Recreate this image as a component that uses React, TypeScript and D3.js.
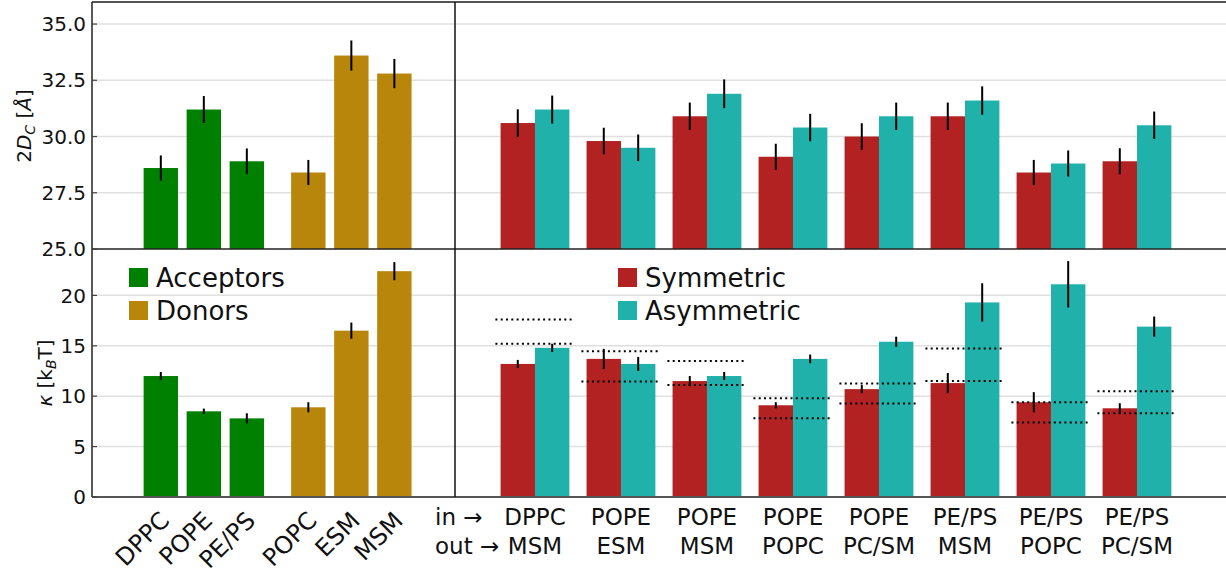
import React from "react";
import * as d3 from "d3";

const leftLabels = ["DPPC", "POPE", "PE/PS", "POPC", "ESM", "MSM"];
const leftGroup = ["Acceptors", "Acceptors", "Acceptors", "Donors", "Donors", "Donors"];
const leftThickness = [28.6, 31.2, 28.9, 28.4, 33.6, 32.8];
const leftThicknessErr = [0.56, 0.6, 0.57, 0.56, 0.67, 0.65];
const leftKappa = [12.0, 8.5, 7.8, 8.9, 16.5, 22.4];
const leftKappaErr = [0.4, 0.27, 0.5, 0.5, 0.8, 0.9];

const pairIn = ["DPPC", "POPE", "POPE", "POPE", "POPE", "PE/PS", "PE/PS", "PE/PS"];
const pairOut = ["MSM", "ESM", "MSM", "POPC", "PC/SM", "MSM", "POPC", "PC/SM"];
const symThickness = [30.6, 29.8, 30.9, 29.1, 30.0, 30.9, 28.4, 28.9];
const symThicknessErr = [0.61, 0.59, 0.61, 0.58, 0.59, 0.61, 0.56, 0.58];
const asymThickness = [31.2, 29.5, 31.9, 30.4, 30.9, 31.6, 28.8, 30.5];
const asymThicknessErr = [0.62, 0.59, 0.64, 0.61, 0.61, 0.63, 0.58, 0.61];
const symKappa = [13.2, 13.7, 11.5, 9.1, 10.7, 11.3, 9.4, 8.8];
const symKappaErr = [0.4, 1.0, 0.5, 0.3, 0.4, 1.0, 1.0, 0.5];
const asymKappa = [14.8, 13.2, 12.0, 13.7, 15.4, 19.3, 21.1, 16.9];
const asymKappaErr = [0.4, 0.7, 0.4, 0.43, 0.5, 1.9, 2.3, 1.0];
const refKappaHigh = [17.6, 14.45, 13.5, 9.8, 11.25, 14.72, 9.4, 10.49];
const refKappaLow = [15.2, 11.45, 11.1, 7.8, 9.27, 11.5, 7.4, 8.3];

const topTicks = [25.0, 27.5, 30.0, 32.5, 35.0];
const bottomTicks = [0, 5, 10, 15, 20];

const groupColors: Record<string, string> = { Acceptors: "#008000", Donors: "#b8860b" };
const SYM = "#b22222";
const ASYM = "#20b2aa";
const FONT = "DejaVu Sans, sans-serif";

const W = 1226, H = 569;
const X0 = 92, XD = 455, X1 = 1226;
const Y0 = 2, YM = 249, Y1 = 497;
const BW = 0.8;

export default function App() {
  const yTop = d3.scaleLinear().domain([25, 35.98]).range([YM, Y0]);
  const yBot = d3.scaleLinear().domain([0, 24.6]).range([Y1, YM]);
  const xL = d3.scaleLinear().domain([-1.6, 6.84]).range([X0, XD]);
  const xR = d3.scaleLinear().domain([-1.86, 16.07]).range([XD, X1]);

  const leftPos = leftLabels.map((_, i) => (i < 3 ? i : i + 0.43));
  const pairPos = pairIn.map((_, i) => i * 2);
  const unit = xL(1) - xL(0);

  const errBar = (x: number, y: (v: number) => number, v: number, e: number, key: string) => (
    <line key={key} x1={x} x2={x} y1={y(v - e)} y2={y(v + e)} stroke="#000" strokeWidth={2} />
  );

  return (
    <svg width={W} height={H} style={{ display: "block", position: "absolute", left: 0, top: 0 }} fontFamily={FONT}>
      <rect width={W} height={H} fill="#fff" />
      {topTicks.filter(t => t > 25).map(t => (
        <line key={"gt" + t} x1={X0} x2={X1} y1={yTop(t)} y2={yTop(t)} stroke="#e0e0e0" strokeWidth={1.5} />
      ))}
      {bottomTicks.filter(t => t > 0).map(t => (
        <line key={"gb" + t} x1={X0} x2={X1} y1={yBot(t)} y2={yBot(t)} stroke="#e0e0e0" strokeWidth={1.5} />
      ))}

      {leftLabels.map((l, i) => {
        const c = xL(leftPos[i]);
        return (
          <g key={"lb" + i}>
            <rect x={c - (BW / 2) * unit} width={BW * unit} y={yTop(leftThickness[i])} height={YM - yTop(leftThickness[i])} fill={groupColors[leftGroup[i]]} />
            {errBar(c, yTop, leftThickness[i], leftThicknessErr[i], "e")}
            <rect x={c - (BW / 2) * unit} width={BW * unit} y={yBot(leftKappa[i])} height={Y1 - yBot(leftKappa[i])} fill={groupColors[leftGroup[i]]} />
            {errBar(c, yBot, leftKappa[i], leftKappaErr[i], "k")}
          </g>
        );
      })}

      {pairIn.map((_, i) => {
        const c = xR(pairPos[i]);
        const w = BW * unit;
        const xs = c - w / 2;
        const xa = c + w / 2;
        return (
          <g key={"rb" + i}>
            <rect x={c - w} width={w} y={yTop(symThickness[i])} height={YM - yTop(symThickness[i])} fill={SYM} />
            <rect x={c} width={w} y={yTop(asymThickness[i])} height={YM - yTop(asymThickness[i])} fill={ASYM} />
            {errBar(xs, yTop, symThickness[i], symThicknessErr[i], "a")}
            {errBar(xa, yTop, asymThickness[i], asymThicknessErr[i], "b")}
            <rect x={c - w} width={w} y={yBot(symKappa[i])} height={Y1 - yBot(symKappa[i])} fill={SYM} />
            <rect x={c} width={w} y={yBot(asymKappa[i])} height={Y1 - yBot(asymKappa[i])} fill={ASYM} />
            {errBar(xs, yBot, symKappa[i], symKappaErr[i], "c")}
            {errBar(xa, yBot, asymKappa[i], asymKappaErr[i], "d")}
            {[refKappaHigh[i], refKappaLow[i]].map((v, j) => (
              <line key={"r" + j} x1={c - 0.92 * unit} x2={c + 0.92 * unit} y1={yBot(v)} y2={yBot(v)} stroke="#000" strokeWidth={2} strokeDasharray="2,3.3" />
            ))}
          </g>
        );
      })}

      <line x1={X0} x2={X1} y1={Y0} y2={Y0} stroke="#555" strokeWidth={2} />
      <line x1={X0} x2={X1} y1={Y1} y2={Y1} stroke="#555" strokeWidth={2} />
      <line x1={X0} x2={X1} y1={YM} y2={YM} stroke="#222" strokeWidth={1.5} />
      <line x1={X0} x2={X0} y1={Y0} y2={Y1} stroke="#222" strokeWidth={1.5} />
      <line x1={XD} x2={XD} y1={Y0} y2={Y1} stroke="#111" strokeWidth={1.5} />

      {topTicks.map(t => (
        <g key={"tt" + t}>
          <line x1={X0} x2={X0 + 5} y1={yTop(t)} y2={yTop(t)} stroke="#444" strokeWidth={1.2} />
          <text x={86} y={yTop(t)} dy="0.36em" textAnchor="end" fontSize={20} fill="#111">{t.toFixed(1)}</text>
        </g>
      ))}
      {bottomTicks.map(t => (
        <g key={"bt" + t}>
          <line x1={X0} x2={X0 + 5} y1={yBot(t)} y2={yBot(t)} stroke="#444" strokeWidth={1.2} />
          <text x={86} y={yBot(t)} dy="0.36em" textAnchor="end" fontSize={20} fill="#111">{t}</text>
        </g>
      ))}

      <text transform={`translate(31,126) rotate(-90)`} textAnchor="middle" fontSize={20} fill="#111">
        2<tspan fontStyle="italic">D</tspan>
        <tspan fontStyle="italic" fontSize={14} dy={4}>C</tspan>
        <tspan dy={-4}> [</tspan>
        <tspan fontStyle="italic">Å</tspan>]
      </text>
      <text transform={`translate(52,373) rotate(-90)`} textAnchor="middle" fontSize={20} fill="#111">
        <tspan fontStyle="italic">κ</tspan> [k
        <tspan fontStyle="italic" fontSize={14} dy={4}>B</tspan>
        <tspan dy={-4}>T]</tspan>
      </text>

      {leftLabels.map((l, i) => (
        <text key={"xl" + i} transform={`translate(${xL(leftPos[i]) + 10},522) rotate(-45)`} textAnchor="end" fontSize={24} fill="#111">{l}</text>
      ))}

      <text x={435} y={525} fontSize={23} fill="#111">in →</text>
      <text x={435} y={554} fontSize={23} fill="#111">out →</text>
      {pairIn.map((l, i) => (
        <g key={"xr" + i}>
          <text x={xR(pairPos[i])} y={525} textAnchor="middle" fontSize={23} fill="#111">{l}</text>
          <text x={xR(pairPos[i])} y={554} textAnchor="middle" fontSize={23} fill="#111">{pairOut[i]}</text>
        </g>
      ))}

      {["Acceptors", "Donors"].map((g, j) => (
        <g key={"lg" + g}>
          <rect x={129} y={268 + j * 33} width={19} height={19} fill={groupColors[g]} />
          <text x={156} y={287 + j * 33} fontSize={26} fill="#111">{g}</text>
        </g>
      ))}
      {[["Symmetric", SYM], ["Asymmetric", ASYM]].map(([g, col], j) => (
        <g key={"lr" + g}>
          <rect x={618} y={268 + j * 33} width={19} height={19} fill={col} />
          <text x={645} y={287 + j * 33} fontSize={26} fill="#111">{g}</text>
        </g>
      ))}
    </svg>
  );
}
